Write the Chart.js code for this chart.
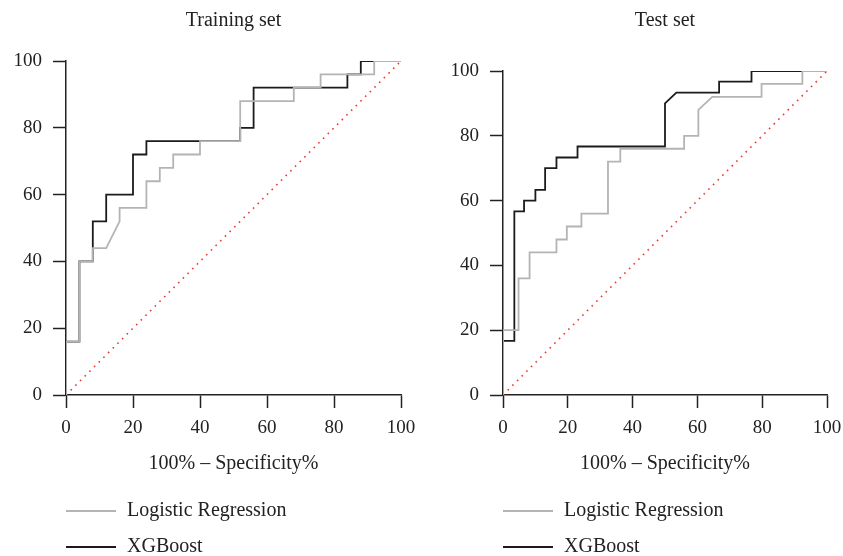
<!DOCTYPE html>
<html>
<head>
<meta charset="utf-8">
<title>ROC curves</title>
<script src="https://cdn.jsdelivr.net/npm/chart.js@4.4.1/dist/chart.umd.min.js"></script>
<style>
  html, body { margin: 0; padding: 0; background: #fff; overflow: hidden; }
  #wrap { position: relative; width: 843px; height: 556px; }
  #chart-train { position: absolute; left: 0; top: 0; }
  #chart-test { position: absolute; left: 421px; top: 0; }
</style>
</head>
<body>
<div id="wrap">
  <canvas id="chart-train" width="421" height="556"></canvas>
  <canvas id="chart-test" width="422" height="556"></canvas>
</div>
<script>
var seriesLabels = ['Logistic Regression', 'XGBoost'];
var panelTitles = ['Training set', 'Test set'];
var axisTicks = [0, 20, 40, 60, 80, 100];
var xAxisTitle = '100% \u2013 Specificity%';

// training set: ROC vertices (100% - specificity, sensitivity)
var trainLrFpr = [0, 0, 4, 4, 8, 8, 12, 16, 16, 24, 24, 28, 28, 32, 32, 40, 40, 52, 52, 68, 68, 76, 76, 92, 92, 100];
var trainLrTpr = [0, 16, 16, 40, 40, 44, 44, 52, 56, 56, 64, 64, 68, 68, 72, 72, 76, 76, 88, 88, 92, 92, 96, 96, 100, 100];
var trainXgbFpr = [0, 0, 4, 4, 8, 8, 12, 12, 20, 20, 24, 24, 52, 52, 56, 56, 84, 84, 88, 88, 100];
var trainXgbTpr = [0, 16, 16, 40, 40, 52, 52, 60, 60, 72, 72, 76, 76, 80, 80, 92, 92, 96, 96, 100, 100];

// test set
var testLrFpr = [0, 0, 4.8, 4.8, 8.2, 8.2, 16.5, 16.5, 19.7, 19.7, 24.2, 24.2, 32.4, 32.4, 36.2, 36.2, 55.9, 55.9, 60.3, 60.3, 64.6, 79.8, 79.8, 92.4, 92.4, 100];
var testLrTpr = [0, 20, 20, 36, 36, 44, 44, 48, 48, 52, 52, 56, 56, 72, 72, 76, 76, 80, 80, 88, 92, 92, 96, 96, 100, 100];
var testXgbFpr = [0, 0, 3.5, 3.5, 6.5, 6.5, 10, 10, 13, 13, 16.5, 16.5, 23, 23, 50, 50, 53.5, 66.7, 66.7, 76.7, 76.7, 100];
var testXgbTpr = [0, 16.7, 16.7, 56.7, 56.7, 60, 60, 63.3, 63.3, 70, 70, 73.3, 73.3, 76.7, 76.7, 90, 93.3, 93.3, 96.7, 96.7, 100, 100];

// chance line
var diagX = [0, 100];
var diagY = [0, 100];

var INK = '#222';
var LR_COLOR = '#b4b4b4';
var XGB_COLOR = '#1b1b1b';
var DIAG_COLOR = '#e53b30';
var SERIF = '"Liberation Serif", "DejaVu Serif", serif';

Chart.defaults.font.family = SERIF;
Chart.defaults.color = INK;

function toPoints(xs, ys) {
  return xs.map(function (x, i) { return { x: x, y: ys[i] }; });
}

// title centred over the plot area rather than the canvas
var panelTitlePlugin = {
  id: 'panelTitle',
  afterDraw: function (chart, args, opts) {
    var area = chart.chartArea;
    var ctx = chart.ctx;
    ctx.save();
    ctx.font = '20px ' + SERIF;
    ctx.fillStyle = INK;
    ctx.textAlign = 'center';
    ctx.textBaseline = 'middle';
    ctx.fillText(opts.text, (area.left + area.right) / 2, opts.y);
    ctx.restore();
  }
};

// stacked legend with line samples under the x axis
var lineLegendPlugin = {
  id: 'lineLegend',
  afterDraw: function (chart, args, opts) {
    var ctx = chart.ctx;
    var left = chart.chartArea.left;
    var row = 0;
    ctx.save();
    ctx.font = '20px ' + SERIF;
    ctx.textBaseline = 'middle';
    chart.data.datasets.forEach(function (ds) {
      if (!ds.label) return;
      var y = opts.top + row * opts.rowGap;
      ctx.strokeStyle = ds.borderColor;
      ctx.lineWidth = 1.8;
      ctx.beginPath();
      ctx.moveTo(left, y);
      ctx.lineTo(left + 50, y);
      ctx.stroke();
      ctx.fillStyle = INK;
      ctx.fillText(ds.label, left + 61, y);
      row++;
    });
    ctx.restore();
  }
};

function axisOptions(isX, fixedSize) {
  var opts = {
    type: 'linear',
    min: 0,
    max: 100,
    afterBuildTicks: function (scale) {
      scale.ticks = axisTicks.map(function (v) { return { value: v }; });
    },
    afterFit: function (scale) {
      // fixed box sizes so both panels line up with the reference
      if (isX) {
        scale.height = fixedSize;
        scale.paddingLeft = 0;
        scale.paddingRight = 0;
      } else {
        scale.width = fixedSize;
        scale.paddingTop = 0;
        scale.paddingBottom = 0;
      }
    },
    grid: {
      drawOnChartArea: false,
      drawTicks: true,
      tickLength: 13,
      tickWidth: 1.5,
      tickColor: INK
    },
    border: { display: true, color: INK, width: 1.5 },
    ticks: {
      font: { size: 19 },
      color: INK,
      padding: isX ? 9 : 11,
      maxRotation: 0
    }
  };
  if (isX) {
    opts.title = {
      display: true,
      text: xAxisTitle,
      font: { size: 20 },
      color: INK,
      padding: { top: 0, bottom: 9 }
    };
  }
  return opts;
}

function makeRoc(canvasId, title, lrX, lrY, xgbX, xgbY, yWidth, padding) {
  return new Chart(document.getElementById(canvasId), {
    type: 'line',
    data: {
      datasets: [
        {
          label: seriesLabels[0],
          data: toPoints(lrX, lrY),
          borderColor: LR_COLOR,
          borderWidth: 1.8
        },
        {
          label: seriesLabels[1],
          data: toPoints(xgbX, xgbY),
          borderColor: XGB_COLOR,
          borderWidth: 1.8
        },
        {
          label: '',
          data: toPoints(diagX, diagY),
          borderColor: DIAG_COLOR,
          borderWidth: 1.6,
          borderDash: [1.6, 5]
        }
      ]
    },
    options: {
      responsive: false,
      animation: false,
      elements: {
        point: { radius: 0, hoverRadius: 0 },
        line: { tension: 0, fill: false, borderCapStyle: 'butt', borderJoinStyle: 'miter' }
      },
      layout: { padding: padding },
      scales: {
        x: axisOptions(true, 90),
        y: axisOptions(false, yWidth)
      },
      plugins: {
        legend: { display: false },
        tooltip: { enabled: false },
        title: { display: false },
        panelTitle: { text: title, y: 21 },
        lineLegend: { top: 511, rowGap: 36 }
      }
    },
    plugins: [panelTitlePlugin, lineLegendPlugin]
  });
}

makeRoc('chart-train', panelTitles[0], trainLrFpr, trainLrTpr, trainXgbFpr, trainXgbTpr,
  66, { top: 61, right: 20, bottom: 71, left: 0 });
makeRoc('chart-test', panelTitles[1], testLrFpr, testLrTpr, testXgbFpr, testXgbTpr,
  82, { top: 71, right: 16, bottom: 71, left: 0 });
</script>
</body>
</html>
